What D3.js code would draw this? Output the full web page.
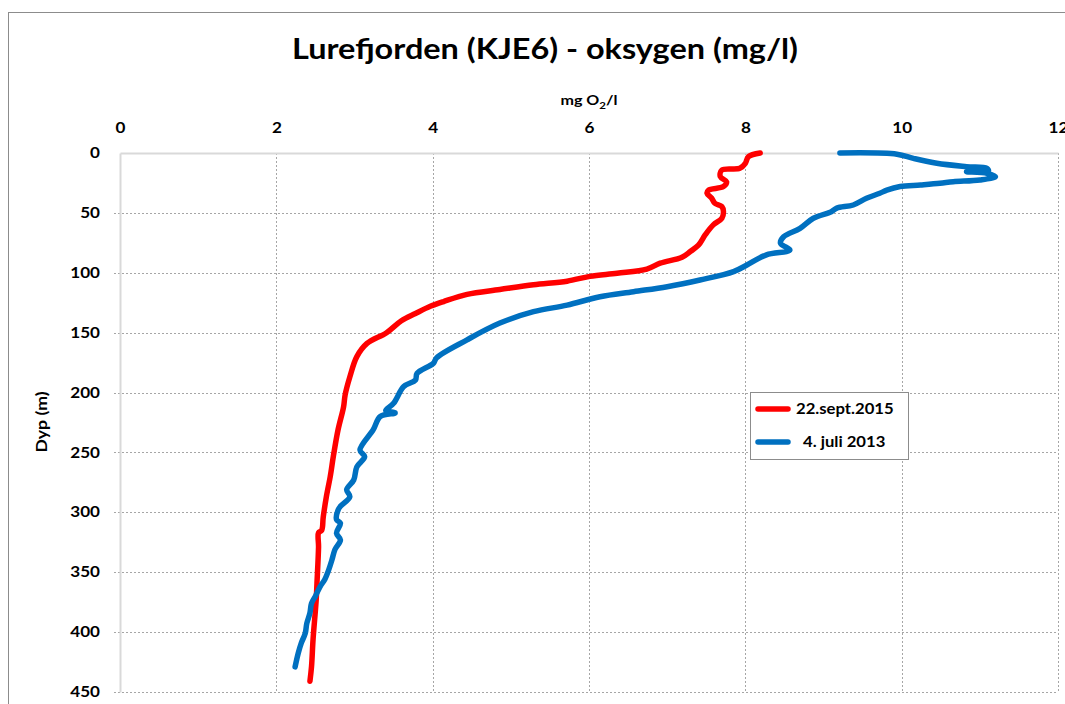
<!DOCTYPE html>
<html>
<head>
<meta charset="utf-8">
<script src="https://cdn.jsdelivr.net/npm/d3@7"></script>
<style>
  html, body { margin: 0; padding: 0; background: #fff; }
  svg { display: block; }
  text { font-family: Lato, "Open Sans", sans-serif; font-weight: bold; fill: #000; }
</style>
</head>
<body>
<svg id="chart" width="1065" height="704"></svg>
<script>
// ---- data ----
const xTicks = [0, 2, 4, 6, 8, 10, 12];
const yTicks = [0, 50, 100, 150, 200, 250, 300, 350, 400, 450];

const seriesNames = ["22.sept.2015", "4. juli 2013"];

const sept2015Depth = [0, 3, 8.6, 12.8, 14.2, 19.8, 24, 28, 31, 33.7, 37.8, 42, 44.8, 49, 54.5, 60, 68, 77, 82, 87, 92, 97, 100.4, 103, 107, 110, 114, 118, 124, 128, 134, 140, 150, 159, 170, 187, 202, 212, 231, 253, 270, 287, 304, 315, 317, 329, 359, 373, 406, 429, 441];
const sept2015O2 = [8.19, 8.04, 8.0, 7.93, 7.70, 7.68, 7.76, 7.72, 7.53, 7.51, 7.57, 7.61, 7.70, 7.72, 7.70, 7.59, 7.49, 7.40, 7.30, 7.19, 6.91, 6.74, 6.36, 6.01, 5.72, 5.29, 4.86, 4.44, 4.14, 3.97, 3.78, 3.60, 3.41, 3.16, 3.03, 2.94, 2.88, 2.86, 2.79, 2.73, 2.69, 2.64, 2.60, 2.58, 2.54, 2.54, 2.52, 2.51, 2.47, 2.45, 2.43];

const juli2013Depth = [0, 1, 4.5, 8.6, 11.4, 12.8, 15, 15.6, 17, 19.8, 22.5, 24, 25.3, 26.7, 28, 31, 33.6, 37.8, 43.4, 46, 49, 54.5, 62.9, 69.9, 75.4, 81, 85, 93.5, 99, 106, 111.6, 115.8, 120, 127, 132.5, 142, 156, 171, 175.5, 184, 189.5, 195, 209, 215, 217, 220, 231, 248, 253.5, 262, 273, 281, 287, 295, 298, 306, 309, 317.5, 323, 331, 340, 348, 356, 362, 370, 376, 384, 392.6, 401, 409, 417.6, 429];
const juli2013O2 = [9.21, 9.94, 10.15, 10.45, 10.83, 11.09, 11.11, 10.83, 11.09, 11.20, 11.0, 10.66, 10.49, 10.24, 9.98, 9.81, 9.72, 9.55, 9.38, 9.17, 9.10, 8.87, 8.70, 8.49, 8.45, 8.57, 8.27, 8.02, 7.85, 7.42, 7.0, 6.57, 6.14, 5.72, 5.29, 4.86, 4.44, 4.05, 4.01, 3.80, 3.78, 3.63, 3.50, 3.40, 3.52, 3.33, 3.24, 3.07, 3.13, 3.03, 2.99, 2.90, 2.94, 2.82, 2.79, 2.77, 2.82, 2.77, 2.82, 2.75, 2.71, 2.67, 2.62, 2.56, 2.50, 2.45, 2.43, 2.39, 2.37, 2.32, 2.28, 2.24];

const colors = ["#FF0000", "#0070C0"];

// ---- layout ----
const svg = d3.select("#chart");
const plot = { left: 120, top: 153, right: 1058, bottom: 692 };

const x = d3.scaleLinear().domain([0, 12]).range([plot.left, plot.right]);
const y = d3.scaleLinear().domain([0, 450]).range([plot.top, plot.bottom]);

svg.append("rect").attr("width", 1065).attr("height", 704).attr("fill", "#fff");

// outer chart border
svg.append("rect")
  .attr("x", 8.5).attr("y", 12.5).attr("width", 1100).attr("height", 760)
  .attr("fill", "none").attr("stroke", "#8c8c8c").attr("stroke-width", 1);

// gridlines
const grid = svg.append("g");
grid.selectAll("line.v").data(xTicks.filter(d => d > 0)).join("line")
  .attr("x1", d => Math.round(x(d)) + 0.5).attr("x2", d => Math.round(x(d)) + 0.5)
  .attr("y1", plot.top).attr("y2", plot.bottom)
  .attr("stroke", "#a6a6a6").attr("stroke-width", 1).attr("stroke-dasharray", "2,2");
grid.selectAll("line.h").data(yTicks.filter(d => d > 0)).join("line")
  .attr("x1", plot.left - 6).attr("x2", plot.right)
  .attr("y1", d => Math.round(y(d)) + 0.5).attr("y2", d => Math.round(y(d)) + 0.5)
  .attr("stroke", "#a6a6a6").attr("stroke-width", 1).attr("stroke-dasharray", "2,2");

// axes (D3 axes, styled)
const xAxis = svg.append("g").attr("transform", `translate(0,${plot.top})`)
  .call(d3.axisTop(x).tickValues(xTicks).tickSize(0).tickPadding(20).tickFormat(d3.format("d")));
xAxis.select(".domain").attr("stroke", "#d9d9d9").attr("stroke-width", 2);
xAxis.selectAll("text").attr("font-size", 14.5).attr("font-family", "Lato").attr("font-weight", "bold");

const yAxis = svg.append("g").attr("transform", `translate(${plot.left},0)`)
  .call(d3.axisLeft(y).tickValues(yTicks).tickSize(0).tickPadding(20).tickFormat(d3.format("d")));
yAxis.select(".domain").attr("stroke", "#d9d9d9").attr("stroke-width", 2);
yAxis.selectAll("text").attr("font-size", 14.5).attr("font-family", "Lato").attr("font-weight", "bold");

// horizontal stretch of tick labels to mimic the wide Calibri rendering
xAxis.selectAll(".tick text").attr("transform", "scale(1.18,1)");
yAxis.selectAll(".tick text").each(function() {
  d3.select(this).attr("transform", `translate(-20,0) scale(1.18,1)`).attr("x", 0);
});

// series lines
const line = d3.line().x(d => x(d[1])).y(d => y(d[0])).curve(d3.curveCatmullRom.alpha(0.5));
const series = [
  d3.zip(sept2015Depth, sept2015O2),
  d3.zip(juli2013Depth, juli2013O2)
];
svg.append("g").selectAll("path").data(series).join("path")
  .attr("d", line)
  .attr("fill", "none")
  .attr("stroke", (d, i) => colors[i])
  .attr("stroke-width", 5.5)
  .attr("stroke-linejoin", "round")
  .attr("stroke-linecap", "round");

// title
svg.append("text")
  .attr("x", 545).attr("y", 59).attr("text-anchor", "middle")
  .attr("font-size", 29)
  .attr("textLength", 506).attr("lengthAdjust", "spacingAndGlyphs")
  .text("Lurefjorden (KJE6) - oksygen (mg/l)");

// x axis title
const xt = svg.append("text").attr("x", 589).attr("y", 105).attr("text-anchor", "middle")
  .attr("font-size", 14).attr("transform", "translate(589,0) scale(1.15,1) translate(-589,0)");
xt.append("tspan").text("mg O");
xt.append("tspan").attr("font-size", 10).attr("dy", 4).text("2");
xt.append("tspan").attr("dy", -4).text("/l");

// y axis title
svg.append("text")
  .attr("transform", "translate(47,422) rotate(-90) scale(1.18,1)")
  .attr("text-anchor", "middle").attr("font-size", 15)
  .text("Dyp (m)");

// legend
const lg = svg.append("g").attr("transform", "translate(750,392)");
lg.append("rect").attr("x", 0.5).attr("y", 0.5).attr("width", 158).attr("height", 67)
  .attr("fill", "#fff").attr("stroke", "#8c8c8c");
const items = lg.selectAll("g.item").data(seriesNames).join("g")
  .attr("transform", (d, i) => `translate(0,${17 + i * 33})`);
items.append("line").attr("x1", 8).attr("x2", 38).attr("y1", 0).attr("y2", 0)
  .attr("stroke", (d, i) => colors[i]).attr("stroke-width", 5.5).attr("stroke-linecap", "round");
items.append("text")
  .attr("transform", (d, i) => `translate(${i === 0 ? 46 : 53},5) scale(1.15,1)`)
  .attr("font-size", 14.5).text(d => d);
</script>
</body>
</html>
